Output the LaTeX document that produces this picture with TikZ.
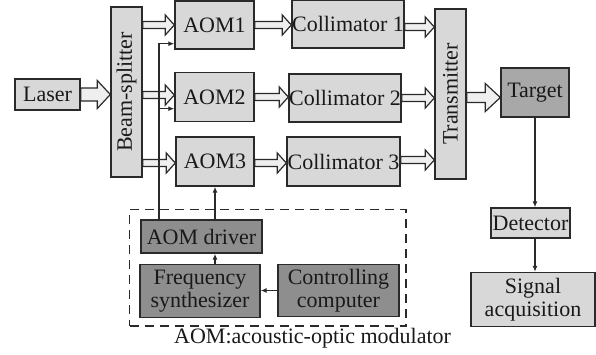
\documentclass[tikz,border=0pt]{standalone}
\usepackage{fontspec}
\setmainfont{Liberation Serif}
\usetikzlibrary{calc,arrows.meta}
\definecolor{lbox}{HTML}{D8D8D8}
\definecolor{dbox}{HTML}{8E8E8E}
\definecolor{tbox}{HTML}{A8A8A8}
\definecolor{afill}{HTML}{EFEFEF}
\definecolor{edge}{HTML}{2A2A2A}
\newcommand{\blockarrow}[5]{%
  \draw[harrow] let \p1=#1, \p2=#2 in
   (\x1,\y1+#3) -- (\x2-#5,\y1+#3) -- (\x2-#5,\y1+#4) -- (\x2,\y1)
   -- (\x2-#5,\y1-#4) -- (\x2-#5,\y1-#3) -- (\x1,\y1-#3) -- cycle;}
\begin{document}
\begin{tikzpicture}[x=1pt,y=-1pt,
  every node/.style={font=\fontsize{22}{23.5}\selectfont, text=black!90, inner sep=0pt, align=center},
  lightbox/.style={draw=edge, line width=1.4pt, fill=lbox},
  darkbox/.style={draw=edge, line width=1.4pt, fill=dbox},
  targetbox/.style={draw=edge, line width=1.4pt, fill=tbox},
  harrow/.style={draw=edge, line width=1.2pt, fill=afill, line join=miter},
  ctl/.style={draw=edge, line width=1.2pt, -{Latex[length=6pt,width=5pt]}},
  dbord/.style={draw=edge, line width=1.3pt, dash pattern=on 9pt off 6pt}]
\useasboundingbox (0,0) rectangle (596,354);
% dashed box
\node[dbord, minimum width=276.5pt, minimum height=116.5pt] (dashbox) at (267.75,267.75) {};
% nodes
\node[lightbox, minimum width=65pt, minimum height=31pt] (laser) at (47.5,94.5) {Laser};
\node[lightbox, minimum width=31pt, minimum height=170pt] (bs) at (126.5,92) {};
\node[rotate=90] at (bs.center) {Beam-splitter};
\node[lightbox, minimum width=79pt, minimum height=48pt] (aom1) at (214.5,25) {AOM1};
\node[lightbox, minimum width=79pt, minimum height=49pt] (aom2) at (214.5,97) {AOM2};
\node[lightbox, minimum width=78pt, minimum height=49pt] (aom3) at (215,161.5) {AOM3};
\node[lightbox, minimum width=112pt, minimum height=48pt] (coll1) at (348,24) {Collimator 1};
\node[lightbox, minimum width=112pt, minimum height=48pt] (coll2) at (345,98) {Collimator 2};
\node[lightbox, minimum width=113pt, minimum height=49pt] (coll3) at (343.5,161.5) {Collimator 3};
\node[lightbox, minimum width=31pt, minimum height=170pt] (tx) at (450.5,94) {};
\node[rotate=90] at (tx.center) {Transmitter};
\node[targetbox, minimum width=68pt, minimum height=49pt] (target) at (535,92.5) {Target};
\node[lightbox, minimum width=79pt, minimum height=30pt] (det) at (530.5,223) {Detector};
\node[lightbox, minimum width=124pt, minimum height=54pt] (sig) at (533,299.5) {Signal\\acquisition};
\node[darkbox, minimum width=121pt, minimum height=33pt] (drv) at (201.5,236.5) {AOM driver};
\node[darkbox, minimum width=120pt, minimum height=53pt] (freq) at (200,291) {Frequency\\synthesizer};
\node[darkbox, minimum width=121pt, minimum height=52pt] (ctrl) at (338.5,290.5) {Controlling\\computer};
\node[anchor=base west] (cap) at (174,343) {AOM:acoustic-optic modulator};
% hollow arrows
\blockarrow{(laser.east)}{(bs.west|-laser.east)}{6.5}{14}{13}
\blockarrow{(bs.east|-aom1.west)}{(aom1.west)}{3.5}{10}{9}
\blockarrow{($(bs.east|-aom2.west)+(0,-2)$)}{(aom2.west)}{3.5}{10}{9}
\blockarrow{($(bs.east|-aom3.west)+(0,1.5)$)}{(aom3.west)}{3.5}{10}{9}
\blockarrow{(aom1.east)}{(coll1.west|-aom1.east)}{3.5}{10}{9}
\blockarrow{(aom2.east)}{(coll2.west|-aom2.east)}{3.5}{10}{9}
\blockarrow{($(aom3.east)+(0,1.5)$)}{(coll3.west|-aom3.east)}{3.5}{10}{9}
\blockarrow{($(coll1.east)+(0,3)$)}{(tx.west|-coll1.east)}{3.5}{10}{9}
\blockarrow{(coll2.east)}{(tx.west|-coll2.east)}{3.5}{10}{9}
\blockarrow{($(coll3.east)+(0,-1.5)$)}{(tx.west|-coll3.east)}{3.5}{10}{9}
\blockarrow{($(tx.east|-target.west)+(0,5)$)}{(target.west)}{5}{14}{15}
% control lines
\coordinate (vx) at (159,0);
\draw[ctl] (drv.north-|vx) |- ($(aom1.south west)+(0,-6)$);
\draw[ctl] ($(aom2.south west)+(-16,-13.5)$) -- ($(aom2.south west)+(0,-13.5)$);
\draw[ctl] (aom3.south|-drv.north) -- (aom3.south);
\draw[ctl] (freq.north-|aom3.south) -- (drv.south-|aom3.south);
\draw[ctl] (ctrl.west) -- (freq.east|-ctrl.west);
\draw[ctl] (target.south) -- (target.south|-det.north);
\draw[ctl] (det.south-|target.south) -- (sig.north-|target.south);
\end{tikzpicture}
\end{document}
